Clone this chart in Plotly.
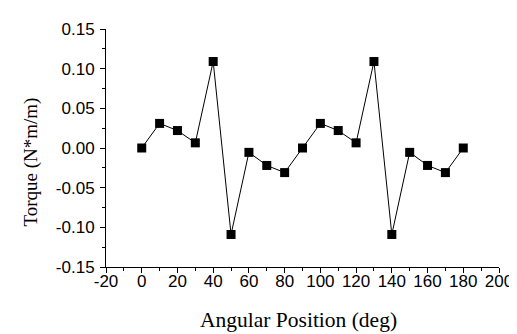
import plotly.graph_objects as go

angle = [0, 10, 20, 30, 40, 50, 60, 70, 80, 90, 100, 110, 120, 130, 140, 150, 160, 170, 180]
torque = [0.000, 0.031, 0.022, 0.0065, 0.109, -0.109, -0.0055, -0.022, -0.031, 0.000,
          0.031, 0.022, 0.0065, 0.109, -0.109, -0.0055, -0.022, -0.031, 0.000]

x_tickvals = [-20, 0, 20, 40, 60, 80, 100, 120, 140, 160, 180, 200]
x_ticktext = ["-20", "0", "20", "40", "60", "80", "100", "120", "140", "160", "180", "200"]
y_tickvals = [-0.15, -0.10, -0.05, 0.00, 0.05, 0.10, 0.15]
y_ticktext = ["-0.15", "-0.10", "-0.05", "0.00", "0.05", "0.10", "0.15"]
x_title = "Angular Position (deg)"
y_title = "Torque (N*m/m)"

fig = go.Figure()
fig.add_trace(go.Scatter(
    x=angle, y=torque, mode="lines+markers",
    line=dict(color="black", width=1),
    marker=dict(symbol="square", size=9, color="black"),
    showlegend=False,
))

fig.update_layout(
    width=517, height=334,
    margin=dict(l=98, r=16, t=16, b=75),
    paper_bgcolor="white", plot_bgcolor="white",
    font=dict(family="Liberation Sans, Arial", size=17, color="black"),
)
fig.update_xaxes(
    range=[-20, 200], tickvals=x_tickvals, ticktext=x_ticktext, showgrid=False, zeroline=False,
    showline=True, linecolor="black", linewidth=1,
    ticks="outside", ticklen=5, tickwidth=1, tickcolor="black",
    minor=dict(dtick=10, ticks="outside", ticklen=3, tickcolor="black", tickwidth=1),
    tickfont=dict(family="Liberation Sans, Arial", size=17),
    ticklabelstandoff=-6,
)
fig.update_yaxes(
    range=[-0.15, 0.15], tickvals=y_tickvals, ticktext=y_ticktext, showgrid=False, zeroline=False,
    showline=True, linecolor="black", linewidth=1,
    ticks="outside", ticklen=5, tickwidth=1, tickcolor="black",
    minor=dict(dtick=0.025, tick0=0, ticks="outside", ticklen=3, tickcolor="black", tickwidth=1),
    tickfont=dict(family="Liberation Sans, Arial", size=17),
    ticklabelstandoff=2,
)
fig.add_annotation(
    text=x_title, xref="paper", yref="paper", x=0.4901, y=-0.222,
    xanchor="center", yanchor="middle", showarrow=False,
    font=dict(family="Liberation Serif, Times New Roman", size=21.5, color="black"),
)
fig.add_annotation(
    text=y_title, xref="paper", yref="paper", x=-0.1898, y=0.4405,
    xanchor="center", yanchor="middle", showarrow=False, textangle=-90,
    font=dict(family="Liberation Serif, Times New Roman", size=19, color="black"),
)

fig.write_html("out.html")
